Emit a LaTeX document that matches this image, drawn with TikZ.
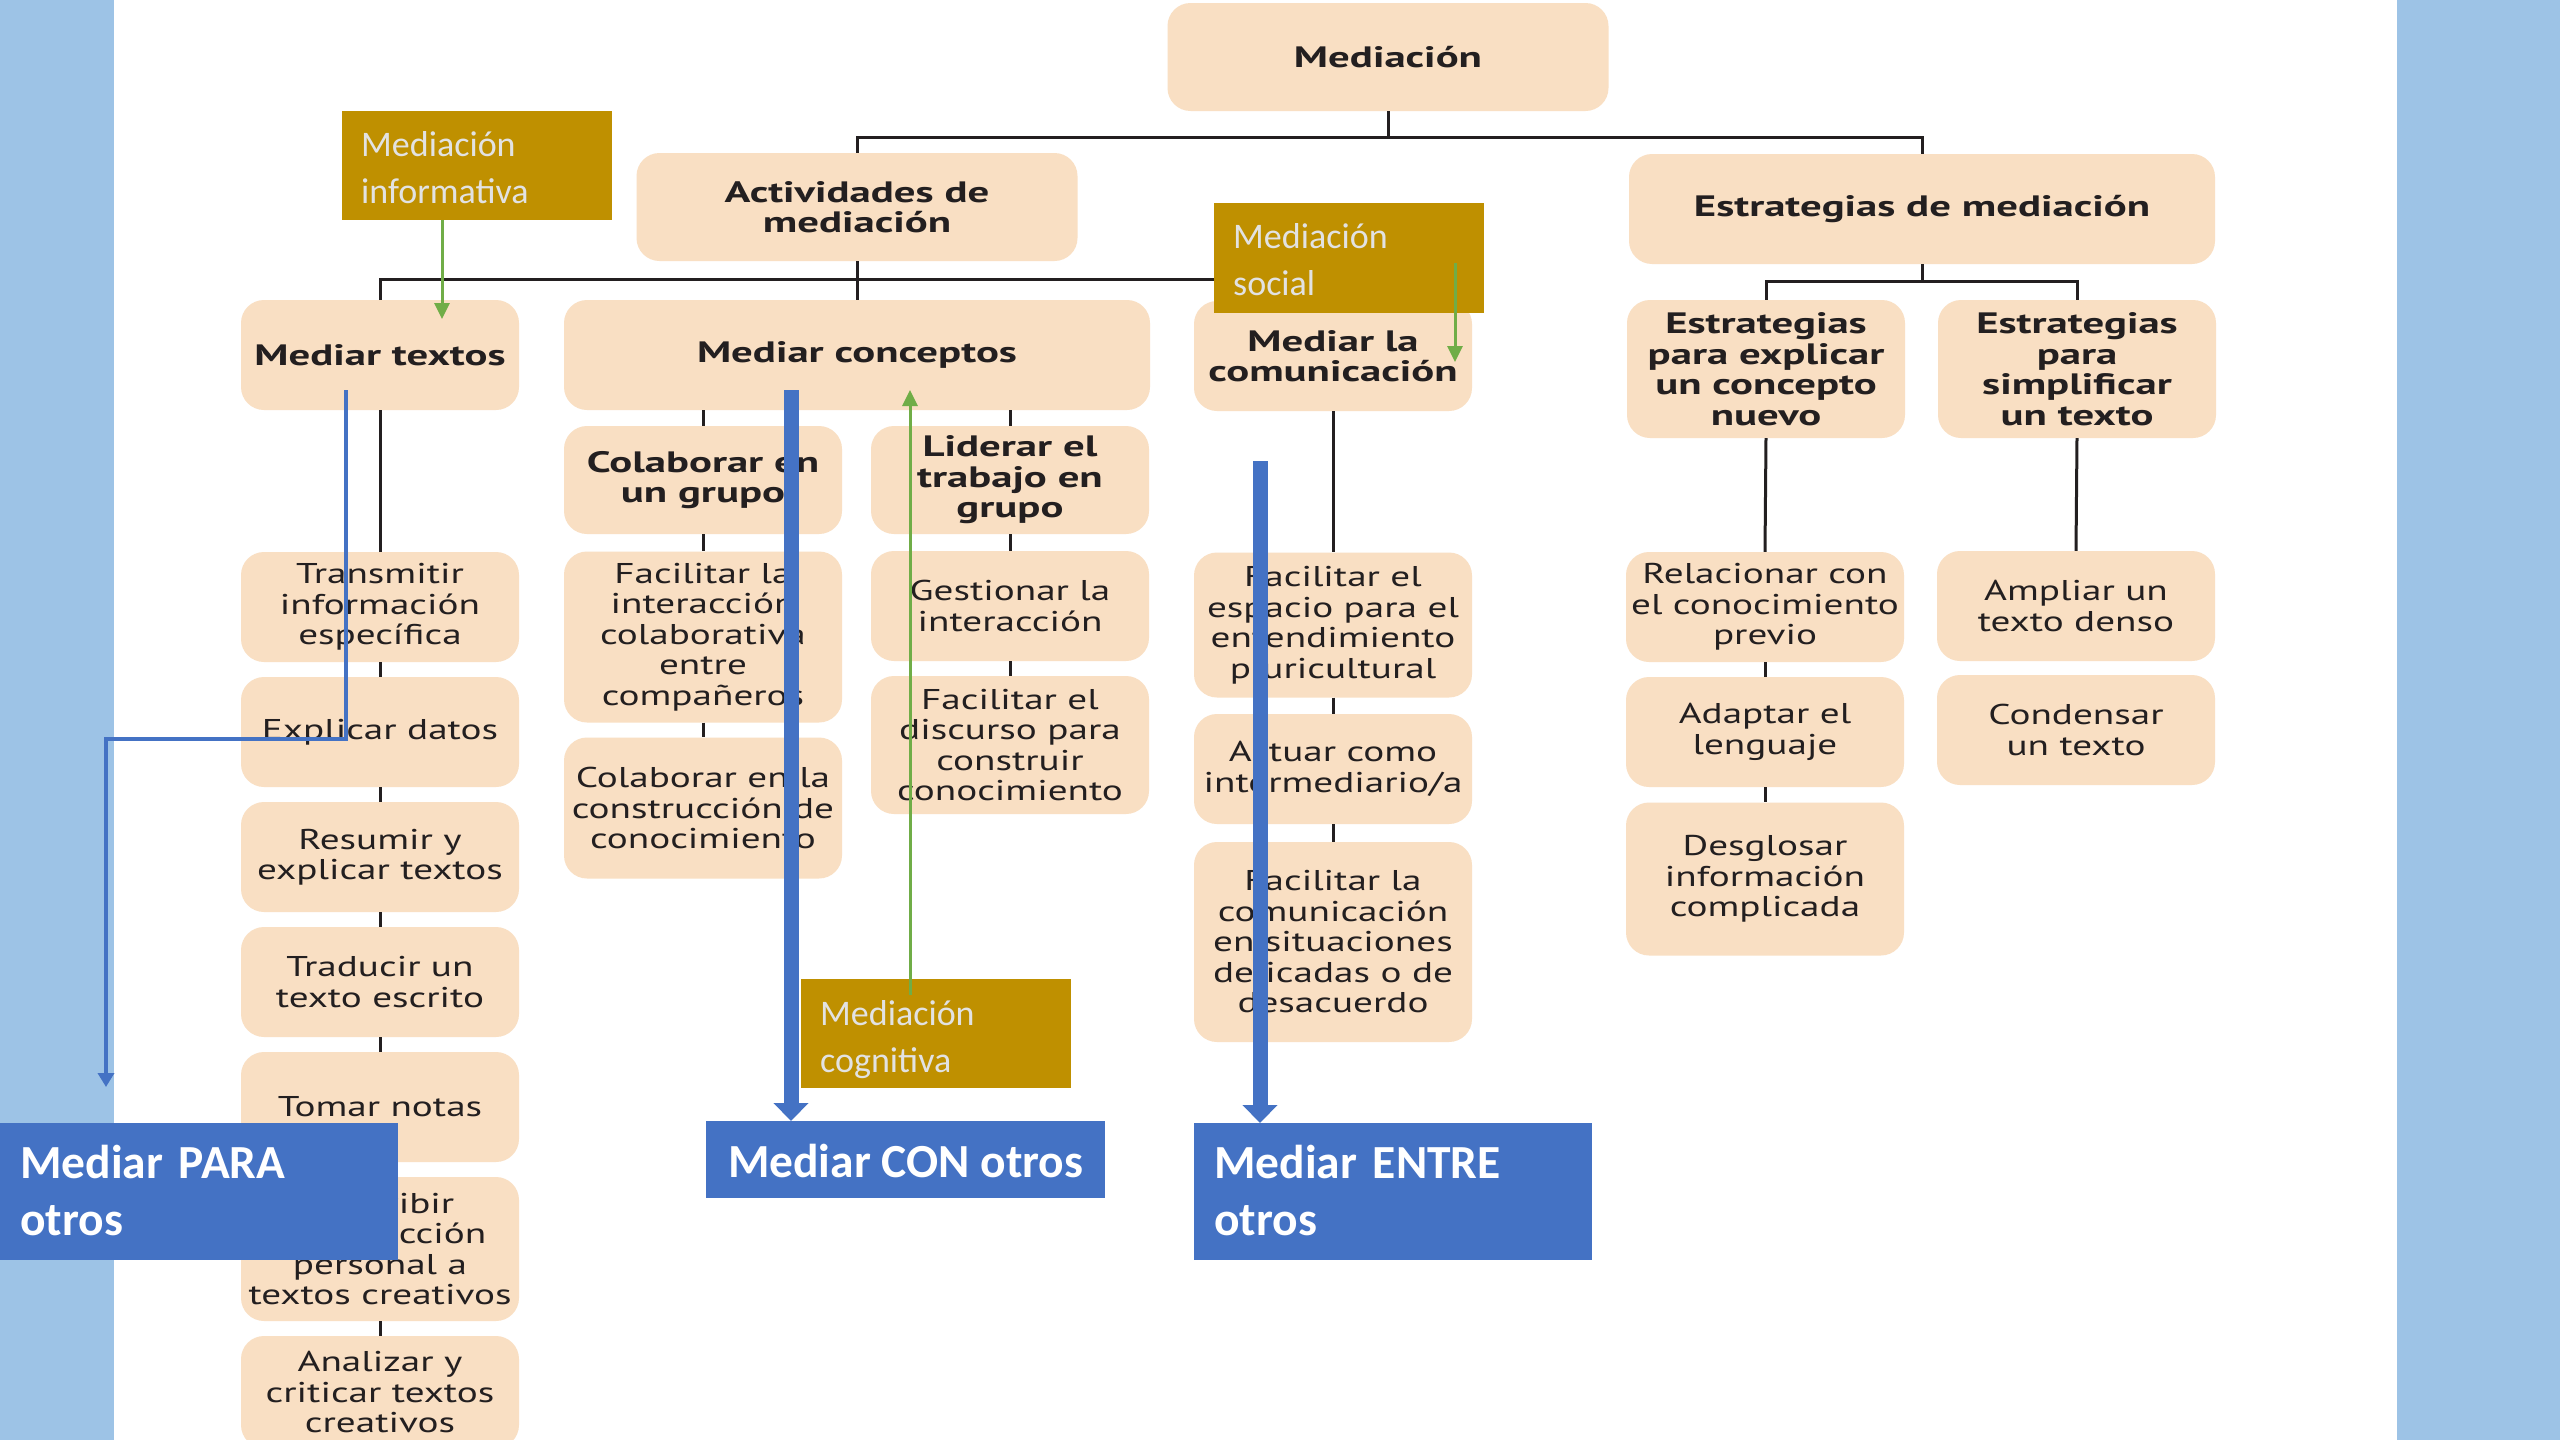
\documentclass[tikz,border=0pt]{standalone}
\usepackage{fontspec}
\setmainfont{PT Sans}[FakeStretch=1.37, BoldFeatures={FakeStretch=1.45}]
\newfontfamily\calibri{Carlito}
\usetikzlibrary{arrows.meta}

\definecolor{peach}{HTML}{F9DFC3}
\definecolor{ink}{HTML}{231F20}
\definecolor{gold}{HTML}{BF9000}
\definecolor{notetext}{HTML}{E2E2E2}
\definecolor{groupblue}{HTML}{4472C4}
\definecolor{hintgreen}{HTML}{70AD47}
\definecolor{sideblue}{HTML}{9DC3E6}

\tikzset{
  box/.style={rectangle, rounded corners=23pt, fill=peach, text=ink,
    minimum width=278pt, minimum height=110pt, inner sep=0pt, align=center,
    font=\fontsize{28.6}{30.5}\selectfont},
  head/.style={box, font=\fontsize{29.5}{30.5}\selectfont\bfseries},
  link/.style={draw=ink, line width=3pt},
  note/.style={rectangle, fill=gold, text=notetext, anchor=north west,
    text width=232pt, inner xsep=19pt, inner ysep=0pt, align=left,
    font=\calibri\fontsize{36}{47}\selectfont},
  group/.style={rectangle, fill=groupblue, text=white, anchor=north west,
    inner xsep=20pt, inner ysep=0pt, align=left,
    font=\calibri\bfseries\fontsize{47.5}{57}\selectfont},
  hint/.style={draw=hintgreen, line width=3pt, -{Triangle[width=15pt,length=16pt]}},
  thinflow/.style={draw=groupblue, line width=3.5pt, -{Triangle[width=16pt,length=14pt]}},
  flow/.style={draw=groupblue, line width=15pt, -{Triangle[width=34pt,length=18pt]}},
}

\begin{document}
\begin{tikzpicture}[x=1pt,y=-1pt]
\useasboundingbox (0,0) rectangle (2560,1440);
\fill[white] (114,0) rectangle (2397,1440);
\fill[sideblue] (0,0) rectangle (114,1440);
\fill[sideblue] (2397,0) rectangle (2560,1440);

% top of the tree
\node[head, minimum width=441pt, minimum height=108pt] (med) at (1388,57) {Mediación};
\node[head, minimum width=441pt, minimum height=108pt] (act) at (857,207) {Actividades de\\mediación};
\node[head, minimum width=586pt] (est) at (1922,209) {Estrategias de mediación};

\node[head] (tex) at (380,355) {Mediar textos};
\node[head, minimum width=586pt] (con) at (857,355) {Mediar conceptos};
\node[head] (com) at (1333,356) {Mediar la\\comunicación};
\node[head, minimum height=138pt] (expl) at (1766,369) {Estrategias\\para explicar\\un concepto\\nuevo};
\node[head, minimum height=138pt] (simp) at (2077,369) {Estrategias\\para\\simplificar\\un texto};

\node[head, minimum height=108pt] (grupo) at (703,480) {Colaborar en\\un grupo};
\node[head, minimum height=108pt] (lider) at (1010,480) {Liderar el\\trabajo en\\grupo};

% leaves
\node[box] (trans) at (380,607) {Transmitir\\información\\específica};
\node[box] (datos) at (380,732) {Explicar datos};
\node[box] (resu) at (380,857) {Resumir y\\explicar textos};
\node[box] (trad) at (380,982) {Traducir un\\texto escrito};
\node[box] (notas) at (380,1107) {Tomar notas};
\node[box, minimum height=144pt] (reac) at (380,1249) {Describir\\una reacción\\personal a\\textos creativos};
\node[box, minimum height=112pt] (anal) at (380,1392) {Analizar y\\criticar textos\\creativos};

\node[box, minimum height=171pt] (inter) at (703,637) {Facilitar la\\interacción\\colaborativa\\entre\\compañeros};
\node[box, minimum height=141pt] (constr) at (703,808) {Colaborar en la\\construcción de\\conocimiento};
\node[box] (gest) at (1010,606) {Gestionar la\\interacción};
\node[box, minimum height=138pt] (disc) at (1010,745) {Facilitar el\\discurso para\\construir\\conocimiento};

\node[box, minimum height=145pt] (espa) at (1333,625) {Facilitar el\\espacio para el\\entendimiento\\pluricultural};
\node[box] (actu) at (1333,769) {Actuar como\\intermediario/a};
\node[box, minimum height=200pt] (deli) at (1333,942) {Facilitar la\\comunicación\\en situaciones\\delicadas o de\\desacuerdo};

\node[box] (rela) at (1765,607) {Relacionar con\\el conocimiento\\previo};
\node[box] (adap) at (1765,732) {Adaptar el\\lenguaje};
\node[box, minimum height=153pt] (desg) at (1765,879) {Desglosar\\información\\complicada};
\node[box] (ampl) at (2076,606) {Ampliar un\\texto denso};
\node[box] (cond) at (2076,730) {Condensar\\un texto};

% tree lines
\coordinate (b0) at (1388,137);
\coordinate (b1) at (857,279);
\coordinate (b2) at (1922,281);
\draw[link] (med.south) -- (b0);
\draw[link] (b0) -| (act.north);
\draw[link] (b0) -| (est.north);
\draw[link] (act.south) -- (b1);
\draw[link] (b1) -| (tex.north);
\draw[link] (b1) -- (con.north);
\draw[link] (b1) -| (com.north);
\draw[link] (est.south) -- (b2);
\draw[link] (b2) -| (expl.north);
\draw[link] (b2) -| (simp.north);
\draw[link] (grupo.north) -- (grupo.north |- con.south);
\draw[link] (lider.north) -- (lider.north |- con.south);
\draw[link] (tex.south) -- (trans.north);
\draw[link] (trans.south) -- (datos.north);
\draw[link] (datos.south) -- (resu.north);
\draw[link] (resu.south) -- (trad.north);
\draw[link] (trad.south) -- (notas.north);
\draw[link] (notas.south) -- (reac.north);
\draw[link] (reac.south) -- (anal.north);
\draw[link] (grupo.south) -- (inter.north);
\draw[link] (inter.south) -- (constr.north);
\draw[link] (lider.south) -- (gest.north);
\draw[link] (gest.south) -- (disc.north);
\draw[link] (com.south) -- (espa.north);
\draw[link] (espa.south) -- (actu.north);
\draw[link] (actu.south) -- (deli.north);
\draw[link] (expl.south) -- (rela.north);
\draw[link] (rela.south) -- (adap.north);
\draw[link] (adap.south) -- (desg.north);
\draw[link] (simp.south) -- (ampl.north);

% notes laid over the tree
\node[note] (info) at (342,111) {\rule{0pt}{45pt}Mediación\\informativa\rule[-17pt]{0pt}{17pt}};
\node[note] (soc) at (1214,203) {\rule{0pt}{45pt}Mediación\\social\rule[-18pt]{0pt}{18pt}};
\node[note] (cog) at (801,979) {\rule{0pt}{46pt}Mediación\\cognitiva\rule[-16pt]{0pt}{16pt}};

\node[group, text width=358pt] (para) at (0,1123) {\rule{0pt}{55pt}Mediar PARA\\otros\rule[-25pt]{0pt}{25pt}};
\node[group, minimum width=399pt, inner xsep=0pt] (conotros) at (706,1121) {\rule{0pt}{56pt}Mediar CON otros\rule[-21pt]{0pt}{21pt}};
\node[group, text width=358pt] (entre) at (1194,1123) {\rule{0pt}{55pt}Mediar ENTRE\\otros\rule[-25pt]{0pt}{25pt}};

% arrows
\coordinate (p0) at (346,390);
\coordinate (p1) at (106,739);
\coordinate (p2) at (106,1087);
\draw[thinflow] (p0) |- (p1) -- (p2);
\coordinate (c0) at (791,390);
\draw[flow] (c0) -- (c0 |- conotros.north);
\coordinate (e0) at (1260,461);
\draw[flow] (e0) -- (e0 |- entre.north);

\coordinate (i1) at (442,319);
\draw[hint] (info.south -| i1) -- (i1);
\coordinate (s0) at (1455,263);
\coordinate (s1) at (1455,362);
\draw[hint] (s0) -- (s1);
\coordinate (g0) at (910,995);
\coordinate (g1) at (910,390);
\draw[hint] (g0) -- (g1);
\end{tikzpicture}
\end{document}
